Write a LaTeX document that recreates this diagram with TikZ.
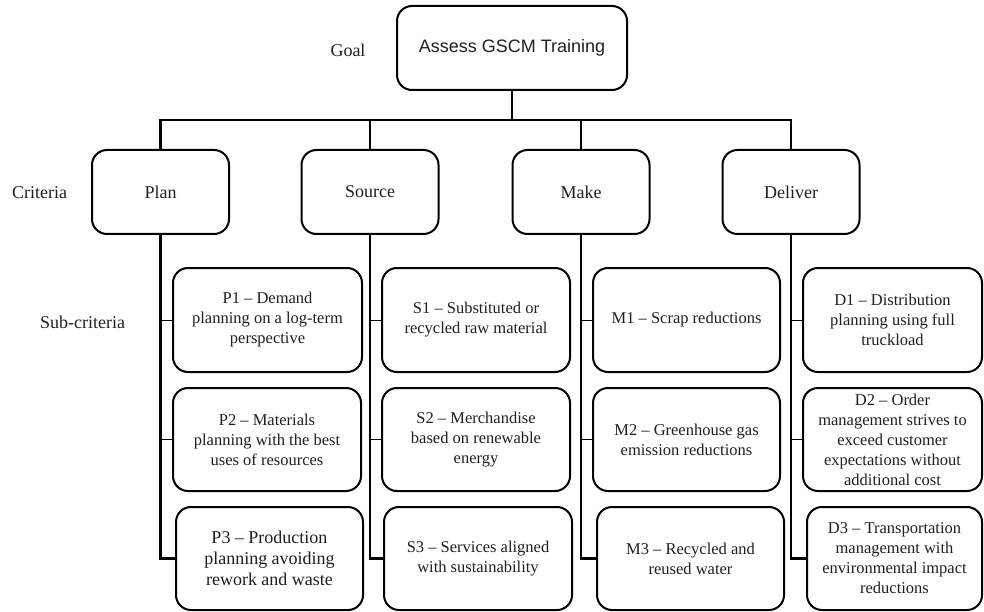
\documentclass[tikz,border=0pt]{standalone}
\usepackage{fontspec}
\setmainfont{Liberation Serif}
\newfontfamily\arialfont{Liberation Sans}
\begin{document}
\begin{tikzpicture}[x=1pt,y=-1pt,
  box/.style={draw=black, rounded corners=15pt, line width=2pt, align=center, inner sep=0pt, text=black!88},
  goalbox/.style={box, minimum width=230pt, minimum height=84pt, font=\arialfont\fontsize{18}{21}\selectfont},
  critbox/.style={box, minimum width=137pt, minimum height=84pt, font=\fontsize{18}{21}\selectfont},
  subbox/.style={box, minimum height=104pt, font=\fontsize{16.5}{20}\selectfont},
  sidelabel/.style={inner sep=0pt, text=black!88, font=\fontsize{18}{21}\selectfont},
  busline/.style={line width=2.4pt},
  stubline/.style={line width=1pt}]
\useasboundingbox (0,0) rectangle (984,612);

% goal
\node[goalbox] (goal) at (512,48) {Assess GSCM Training};

% criteria
\node[critbox] (plan) at (160.5,192) {Plan};
\node[critbox] (source) at (370,192) {Source};
\node[critbox] (make) at (581,192) {Make};
\node[critbox] (deliver) at (791,192) {Deliver};

% side labels
\node[sidelabel] (lgoal) at (348,50) {Goal};
\node[sidelabel] (lcrit) at (39.5,193) {Criteria};
\node[sidelabel] (lsub) at (82.5,322) {Sub-criteria};

% sub-criteria
\node[subbox, minimum width=189pt] (p1) at (267.5,320) {P1 – Demand\\planning on a log-term\\perspective};
\node[subbox, minimum width=188pt, minimum height=103pt] (p2) at (267,439.5) {P2 – Materials\\planning with the best\\uses of resources};
\node[subbox, minimum width=187pt, minimum height=103pt, font=\fontsize{18}{21}\selectfont] (p3) at (269.5,558.5) {P3 – Production\\planning avoiding\\rework and waste};

\node[subbox, minimum width=188pt] (s1) at (476,320) {S1 – Substituted or\\recycled raw material};
\node[subbox, minimum width=188pt, minimum height=103pt] (s2) at (476,439.5) {S2 – Merchandise\\based on renewable\\energy};
\node[subbox, minimum width=188pt, minimum height=103pt] (s3) at (478,558.5) {S3 – Services aligned\\with sustainability};

\node[subbox, minimum width=187pt] (m1) at (686.5,320) {M1 – Scrap reductions};
\node[subbox, minimum width=187pt, minimum height=103pt] (m2) at (686.5,439.5) {M2 – Greenhouse gas\\emission reductions};
\node[subbox, minimum width=187pt, minimum height=103pt] (m3) at (690.5,558.5) {M3 – Recycled and\\reused water};

\node[subbox, minimum width=179pt] (d1) at (892.5,320) {D1 – Distribution\\planning using full\\truckload};
\node[subbox, minimum width=179pt, minimum height=103pt] (d2) at (892.5,439.5) {D2 – Order\\management strives to\\exceed customer\\expectations without\\additional cost};
\node[subbox, minimum width=175pt, minimum height=103pt] (d3) at (894.5,558.5) {D3 – Transportation\\management with\\environmental impact\\reductions};

% bus
\coordinate (bus) at (0,120);
\draw[busline] (goal.south) -- (goal.south |- bus);
\draw[busline] (plan.north) -- (plan.north |- bus) -- (deliver.north |- bus) -- (deliver.north);
\draw[busline] (source.north) -- (source.north |- bus);
\draw[busline] (make.north) -- (make.north |- bus);

% spines
\draw[busline] (plan.south) -- (plan.south |- p3.west) -- (p3.west);
\draw[busline] (source.south) -- (source.south |- s3.west) -- (s3.west);
\draw[busline] (make.south) -- (make.south |- m3.west) -- (m3.west);
\draw[busline] (deliver.south) -- (deliver.south |- d3.west) -- (d3.west);

% stubs
\draw[stubline] (plan.south |- p1.west) -- (p1.west);
\draw[stubline] (plan.south |- p2.west) -- (p2.west);
\draw[stubline] (source.south |- s1.west) -- (s1.west);
\draw[stubline] (source.south |- s2.west) -- (s2.west);
\draw[stubline] (make.south |- m1.west) -- (m1.west);
\draw[stubline] (make.south |- m2.west) -- (m2.west);
\draw[stubline] (deliver.south |- d1.west) -- (d1.west);
\draw[stubline] (deliver.south |- d2.west) -- (d2.west);
\end{tikzpicture}
\end{document}
